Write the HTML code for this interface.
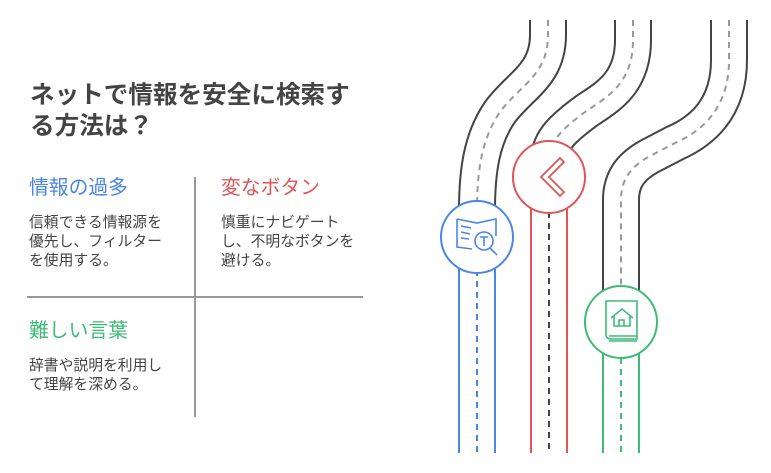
<!DOCTYPE html><html><head><meta charset="utf-8"><style>
body{margin:0;width:771px;height:473px;background:#fff;position:relative;overflow:hidden;font-family:"Liberation Sans","Noto Sans CJK JP",sans-serif}
.t{position:absolute;white-space:nowrap}
.title{left:30px;top:80px;font-size:24.6px;font-weight:bold;color:#444;line-height:31px}
.h{font-size:19.8px;line-height:22px}
.b{font-size:14.8px;color:#444;line-height:19px}
</style></head><body>
<div class="t title">ネットで情報を安全に検索す<br>る方法は？</div>
<div class="t h" style="left:29px;top:177px;color:#4a86e8">情報の過多</div>
<div class="t b" style="left:29px;top:214px">信頼できる情報源を<br>優先し、フィルター<br>を使用する。</div>
<div class="t h" style="left:221px;top:177px;color:#e05555">変なボタン</div>
<div class="t b" style="left:221px;top:214px">慎重にナビゲート<br>し、不明なボタンを<br>避ける。</div>
<div class="t h" style="left:29px;top:320px;color:#3dbb77">難しい言葉</div>
<div class="t b" style="left:29px;top:357px">辞書や説明を利用し<br>て理解を深める。</div>
<div style="position:absolute;left:194px;top:177px;width:2px;height:240px;background:#999"></div>
<div style="position:absolute;left:27px;top:296px;width:336px;height:2px;background:#999"></div>
<svg width="771" height="473" style="position:absolute;left:0;top:0" fill="none">
<g stroke-linecap="butt">
<path id="p1" d="M548,20 V35 C548,75 520,85 500,112 C482,138 477,170 477,210"/>
<path id="p2" d="M633,20 V40 C633,85 605,98 585,112 C565,127 549,140 549,160"/>
<path id="p3" d="M729,20 V60 C729,110 700,132 675,143 L650,156 C630,167 621,180 621,200 V300"/>
<use href="#p1" stroke="#444" stroke-width="38"/><use href="#p1" stroke="#fff" stroke-width="34"/><use href="#p1" stroke="#999" stroke-width="2" stroke-dasharray="6 5"/>
<use href="#p2" stroke="#444" stroke-width="38"/><use href="#p2" stroke="#fff" stroke-width="34"/><use href="#p2" stroke="#999" stroke-width="2" stroke-dasharray="6 5"/>
<use href="#p3" stroke="#444" stroke-width="38"/><use href="#p3" stroke="#fff" stroke-width="34"/><use href="#p3" stroke="#999" stroke-width="2" stroke-dasharray="6 5"/>
</g>
<g stroke-width="2">
<path d="M459,240 V453 M495,240 V453" stroke="#4a86e8"/><path d="M477,270 V453" stroke="#4a86e8" stroke-dasharray="6 5"/>
<path d="M531,180 V453 M567,180 V453" stroke="#e05555"/><path d="M549,212 V453" stroke="#444" stroke-dasharray="6 5"/>
<path d="M603,330 V453 M639,330 V453" stroke="#3dbb77"/><path d="M621,358 V453" stroke="#3dbb77" stroke-dasharray="6 5"/>
<circle cx="477" cy="237" r="36" fill="#fff" stroke="#4a86e8"/>
<circle cx="549" cy="177" r="36" fill="#fff" stroke="#e05555"/>
<circle cx="621" cy="322" r="36" fill="#fff" stroke="#3dbb77"/>
</g>
<g stroke="#4a86e8" stroke-width="1.6" fill="none">
<path d="M457,219 L477,223 L496,219 V236 M457,219 V247 L472,249"/>
<path d="M461,226 L471,228 M461,232 L470,234 M461,238 L469,239"/>
<circle cx="484" cy="241" r="9"/><path d="M490,248 L497,255 M480,237 H488 M484,237 V246"/>
</g>
<path d="M560,158 L541,177 L560,196 L564,192 L549,177 L564,162 Z" stroke="#e05555" stroke-width="1.8" fill="none"/>
<g stroke="#3dbb77" stroke-width="1.6" fill="none">
<path d="M606,301 H637 V339 H611 Q606,339 606,334 Z M609,336 H637 M609,341 H637"/>
<path d="M611,318 L622,309 L633,318 M614,316 V326 H630 V316 M619,326 V320 H624 V326"/>
</g>
</svg>
</body></html>
